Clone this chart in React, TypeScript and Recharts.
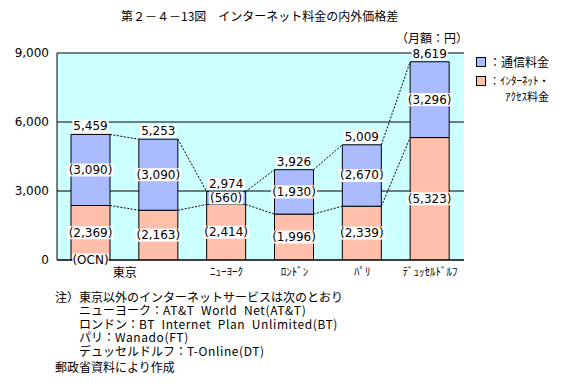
import React from 'react';
import {
  ComposedChart,
  Bar,
  XAxis,
  YAxis,
  CartesianGrid,
  LabelList,
} from 'recharts';

// ---- data ----
const categories = ['東京(OCN)', '東京', 'ニューヨーク', 'ロンドン', 'パリ', 'デュッセルドルフ'];
const tickLabels = ['東京', '', 'ﾆｭｰﾖｰｸ', 'ﾛﾝﾄﾞﾝ', 'ﾊﾟﾘ', 'ﾃﾞｭｯｾﾙﾄﾞﾙﾌ'];
const accessFee = [2369, 2163, 2414, 1996, 2339, 5323]; // インターネット・アクセス料金
const commFee = [3090, 3090, 560, 1930, 2670, 3296]; // 通信料金
const totals = [5459, 5253, 2974, 3926, 5009, 8619];
const providerLabels = ['(OCN)', '', '', '', '', ''];
const yTicks = [0, 3000, 6000, 9000];

const titleText = '第２－４－13図　インターネット料金の内外価格差';
const unitText = '（月額：円）';
const legendComm = '：通信料金';
const legendAccess1 = '：ｲﾝﾀｰﾈｯﾄ・';
const legendAccess2 = 'ｱｸｾｽ料金';
const noteHead = '注）東京以外のインターネットサービスは次のとおり';
const noteCities = ['ニューヨーク：', 'ロンドン：', 'パリ：', 'デュッセルドルフ：'];
const noteServices = ['AT&T  World  Net(AT&T)', 'BT  Internet  Plan  Unlimited(BT)', 'Wanado(FT)', 'T-Online(DT)'];
const sourceText = '郵政省資料により作成';

// ---- style / layout ----
const W = 568;
const H = 386;
const PLOT_LEFT = 57;
const PLOT_RIGHT = 464;
const PLOT_TOP = 53;
const PLOT_BOTTOM = 260;
const BAR_SIZE = 39;
const BAND = (PLOT_RIGHT - PLOT_LEFT) / categories.length;

const BLUE = '#AABBFF';
const SALMON = '#FFBFAA';
const CYAN = '#CCFFFF';
const JP = '"Noto Sans CJK JP", "Noto Sans", sans-serif';
const NUM = '"DejaVu Sans", sans-serif';

const data = categories.map((c, i) => ({
  city: c,
  access: accessFee[i],
  comm: commFee[i],
}));

const fmt = (v: number) => v.toLocaleString('en-US');

const textWidth = (s: string) => {
  let w = 0;
  for (const ch of s) {
    if (ch === ',') w += 3.8;
    else if (ch === '(' || ch === ')') w += 4.7;
    else if (/[0-9]/.test(ch)) w += 7.63;
    else w += 8.3;
  }
  return w;
};

const BoxLabel = ({ cx, cy, text }: { cx: number; cy: number; text: string }) => {
  const w = textWidth(text) + 2;
  return (
    <g>
      <rect x={cx - w / 2} y={cy - 6.5} width={w} height={13} fill="#fff" />
      <text
        x={cx}
        y={cy}
        textAnchor="middle"
        dominantBaseline="central"
        fontFamily={NUM}
        fontSize={12}
        fill="#000"
      >
        {text}
      </text>
    </g>
  );
};

const DASH = '2 1.5';

const renderCommLabels = (props: any) => {
  const { x, y, width, height, index } = props;
  const bx = Number(x);
  const by = Number(y);
  const bw = Number(width);
  const bh = Number(height);
  const cx = bx + bw / 2;
  const mid = by + bh / 2;
  // pixels per yen derived from this bar's own geometry
  const ppu = bh / commFee[index];
  const zeroY = by + bh + accessFee[index] * ppu;
  const hasNext = index < categories.length - 1;
  const nx = bx + BAND;
  return (
    <g key={`c${index}`}>
      {hasNext ? (
        <g>
          <line
            x1={bx + bw}
            y1={by}
            x2={nx}
            y2={zeroY - totals[index + 1] * ppu}
            stroke="#000"
            strokeWidth={1}
            strokeDasharray={DASH}
          />
          <line
            x1={bx + bw}
            y1={by + bh}
            x2={nx}
            y2={zeroY - accessFee[index + 1] * ppu}
            stroke="#000"
            strokeWidth={1}
            strokeDasharray={DASH}
          />
        </g>
      ) : null}
      <BoxLabel cx={cx} cy={by - 8} text={fmt(totals[index])} />
      <BoxLabel cx={cx} cy={mid} text={`(${fmt(commFee[index])})`} />
    </g>
  );
};

const renderAccessLabels = (props: any) => {
  const { x, y, width, height, index } = props;
  const cx = Number(x) + Number(width) / 2;
  const mid = Number(y) + Number(height) / 2;
  const bottom = Number(y) + Number(height);
  return (
    <g key={`a${index}`}>
      <BoxLabel cx={cx} cy={mid} text={`(${fmt(accessFee[index])})`} />
      {providerLabels[index] ? (
        <BoxLabel cx={cx} cy={bottom} text={providerLabels[index]} />
      ) : null}
    </g>
  );
};

const XTick = (props: any) => {
  const { x, y, index } = props;
  const label = tickLabels[index];
  if (!label) return null;
  const isTokyo = index === 0;
  const px = isTokyo ? Number(x) + BAND / 2 : Number(x);
  return (
    <text
      x={px}
      y={Number(y) + 1}
      textAnchor="middle"
      dominantBaseline="central"
      fontFamily={JP}
      fontSize={isTokyo ? 12 : 11}
      fill="#000"
    >
      {label}
    </text>
  );
};

const abs = (left: number, top: number, extra: React.CSSProperties = {}): React.CSSProperties => ({
  position: 'absolute',
  left,
  top,
  fontFamily: JP,
  fontSize: 12,
  lineHeight: '13px',
  whiteSpace: 'pre',
  color: '#000',
  ...extra,
});

export default function App() {
  return (
    <div style={{ position: 'absolute', left: 0, top: 0, width: W, height: H, background: '#fff', overflow: 'hidden' }}>
      <ComposedChart
        width={W}
        height={H}
        data={data}
        margin={{ top: PLOT_TOP, right: W - PLOT_RIGHT, left: 0, bottom: 0 }}
        barCategoryGap={0}
      >
        <CartesianGrid horizontal vertical={false} stroke="#000" fill={CYAN} />
        <XAxis
          dataKey="city"
          height={H - PLOT_BOTTOM}
          interval={0}
          tickLine={false}
          axisLine={{ stroke: '#000' }}
          tick={<XTick />}
          tickMargin={4}
        />
        <YAxis
          width={PLOT_LEFT}
          domain={[0, 9000]}
          ticks={yTicks}
          tickFormatter={fmt}
          tickLine={false}
          axisLine={{ stroke: '#000' }}
          tickMargin={2}
          tick={{ fill: '#000', fontFamily: NUM, fontSize: 12 }}
          allowDataOverflow
        />
        <YAxis
          yAxisId="r"
          orientation="right"
          width={0}
          domain={[0, 9000]}
          ticks={yTicks}
          tick={false}
          tickLine={false}
          axisLine={{ stroke: '#000' }}
        />
        <Bar dataKey="access" stackId="s" fill={SALMON} stroke="#000" strokeWidth={1} barSize={BAR_SIZE} isAnimationActive={false}>
          <LabelList dataKey="access" content={renderAccessLabels} />
        </Bar>
        <Bar dataKey="comm" stackId="s" fill={BLUE} stroke="#000" strokeWidth={1} barSize={BAR_SIZE} isAnimationActive={false}>
          <LabelList dataKey="comm" content={renderCommLabels} />
        </Bar>
      </ComposedChart>

      <div style={abs(121, 9)}>{titleText}</div>
      <div style={abs(396, 31)}>{unitText}</div>

      <div style={{ position: 'absolute', left: 476, top: 57, width: 10, height: 10, background: BLUE, border: '1px solid #000', boxSizing: 'border-box' }} />
      <div style={abs(489, 55)}>{legendComm}</div>
      <div style={{ position: 'absolute', left: 476, top: 76, width: 10, height: 10, background: SALMON, border: '1px solid #000', boxSizing: 'border-box' }} />
      <div style={abs(489, 74, { fontSize: 11 })}>{legendAccess1}</div>
      <div style={abs(505, 90, { fontSize: 11 })}>{legendAccess2}</div>

      <div style={abs(55, 290)}>{noteHead}</div>
      {noteCities.map((c, i) => (
        <div key={i} style={abs(79, 303 + i * 13.5)}>
          <span>{c}</span>
          <span style={{ letterSpacing: '0.6px' }}>{noteServices[i]}</span>
        </div>
      ))}
      <div style={abs(55, 360)}>{sourceText}</div>
    </div>
  );
}
